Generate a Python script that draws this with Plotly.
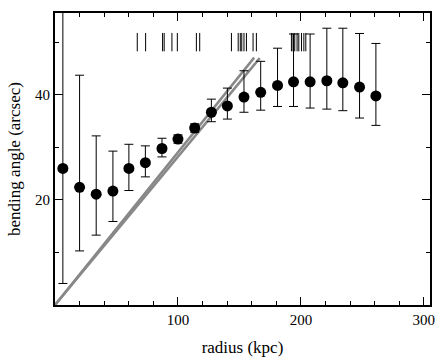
import plotly.graph_objects as go

# binned bending angle profile
radius = [6.4, 20.0, 33.5, 47.1, 60.1, 73.5, 87.0, 100.0, 113.6, 127.2,
          140.2, 153.7, 167.3, 181.0, 194.0, 207.5, 221.1, 234.1, 247.7, 261.0]
angle = [26.0, 22.4, 21.1, 21.7, 26.0, 27.1, 29.8, 31.6, 33.7, 36.7,
         37.9, 39.6, 40.5, 41.8, 42.5, 42.5, 42.7, 42.3, 41.5, 39.8]
angle_hi = [58.0, 43.75, 32.2, 29.3, 30.6, 30.3, 31.75, 32.4, 34.5, 39.2,
            41.3, 44.6, 46.4, 48.9, 51.6, 51.6, 52.7, 52.7, 51.7, 49.8]
angle_lo = [4.1, 10.3, 13.3, 15.9, 21.8, 24.4, 28.2, 30.8, 32.9, 34.9,
            35.4, 36.7, 37.1, 37.8, 37.8, 37.5, 37.3, 37.0, 35.6, 34.2]

# positions of individual objects (rug along the top)
rug_r = [66.9, 73.7, 87.5, 88.8, 95.1, 99.5, 115.0, 117.7, 143.5, 149.0,
         150.7, 151.9, 153.7, 155.7, 161.1, 163.8, 192.3, 193.6, 195.0,
         196.9, 198.3, 200.5, 202.4, 204.0]
rug_lo, rug_hi = 48.3, 51.8

# linear models through the origin
model_a_r = [0, 162.0]
model_a_y = [0, 47.1]
model_b_r = [0, 166.5]
model_b_y = [0, 47.0]

font = "Liberation Serif, Times New Roman, serif"

err_plus = [h - a for h, a in zip(angle_hi, angle)]
err_minus = [a - l for a, l in zip(angle, angle_lo)]

rx, ry = [], []
for r in rug_r:
    rx += [r, r, None]
    ry += [rug_lo, rug_hi, None]

fig = go.Figure()
for mx, my in [(model_a_r, model_a_y), (model_b_r, model_b_y)]:
    fig.add_trace(go.Scatter(x=mx, y=my, mode="lines",
                             line=dict(color="#888888", width=2.5),
                             hoverinfo="skip"))
fig.add_trace(go.Scatter(x=rx, y=ry, mode="lines",
                         line=dict(color="black", width=1), hoverinfo="skip"))
fig.add_trace(go.Scatter(
    x=radius, y=angle, mode="markers",
    marker=dict(color="black", size=11),
    error_y=dict(type="data", array=err_plus, arrayminus=err_minus,
                 color="black", thickness=1, width=4.5),
))

axis_common = dict(
    showline=True, linecolor="black", linewidth=2, mirror="allticks",
    ticks="inside", ticklen=8, tickwidth=1, tickcolor="black",
    showgrid=False, zeroline=False, automargin=False,
    tickfont=dict(family=font, size=15, color="black"),
)

fig.update_layout(
    width=444, height=361,
    margin=dict(l=55, r=14, t=13, b=56),
    paper_bgcolor="white", plot_bgcolor="white",
    showlegend=False,
    font=dict(family=font, color="black"),
    xaxis=dict(range=[0, 305], tickmode="array", tickvals=[100, 200, 300],
               minor=dict(dtick=20, tick0=0, ticks="inside", ticklen=4,
                          tickcolor="black"),
               title=dict(text="radius (kpc)", font=dict(size=17), standoff=14),
               **axis_common),
    yaxis=dict(range=[0, 55.6], tickmode="array", tickvals=[20, 40],
               minor=dict(dtick=10, tick0=0, ticks="inside", ticklen=4,
                          tickcolor="black"),
               title=dict(text="bending angle (arcsec)", font=dict(size=17), standoff=10),
               **axis_common),
)

# the page's default body margin would shift the figure by 8px
fig.write_html("out.html", config={"displayModeBar": False},
               post_script="document.body.style.margin='0px';")
